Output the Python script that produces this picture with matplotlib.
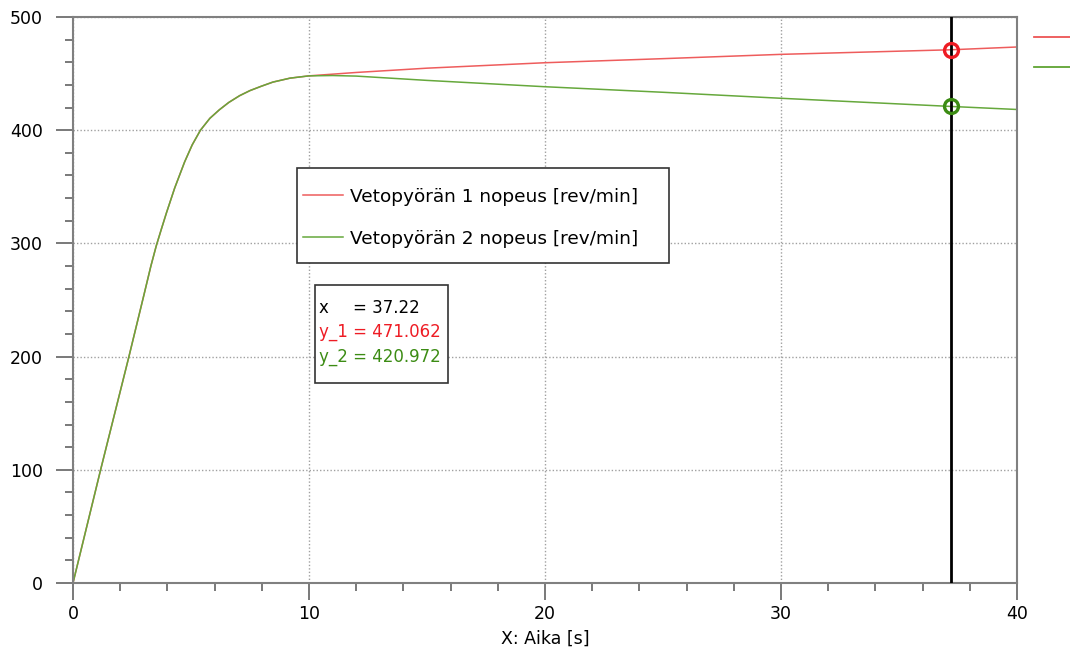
import numpy as np
import matplotlib
matplotlib.use("Agg")
import matplotlib.pyplot as plt
from matplotlib.lines import Line2D
from matplotlib.patches import Rectangle
from matplotlib.ticker import MultipleLocator

RED, GREEN, RED_DK, GREEN_DK = "#ee5c5c", "#66a83c", "#ee1c24", "#3c8c14"
GRAY = "#808080"

# common start-up phase (both wheels identical)
t_up = [0, 1.17, 2.37, 3.0, 3.3, 3.53, 3.75, 3.96, 4.31, 4.73, 5.05, 5.4,
        5.8, 6.2, 6.6, 7.06, 7.5, 8.0, 8.47, 9.2, 10]
v_up = [0, 100, 200, 254, 280, 298, 313, 327, 349, 372, 387, 400,
        410.5, 418, 424.5, 430.5, 435, 439, 442.5, 446, 448]
# after 10 s the wheels diverge
t_w1 = [10, 12, 15, 20, 25, 30, 37.22, 40]
v_w1 = [448, 451, 454.8, 459.6, 463.2, 467, 471.062, 473.5]
t_w2 = [10, 11, 12, 15, 20, 25, 30, 37.22, 40]
v_w2 = [448, 448.3, 447.8, 444, 438.4, 433.5, 428.2, 420.972, 418.3]
labels = ["Vetopyörän 1 nopeus [rev/min]", "Vetopyörän 2 nopeus [rev/min]"]
cursor_x, cursor_y1, cursor_y2 = 37.22, 471.062, 420.972

plt.rcParams["font.family"] = ["DejaVu Sans"]
fig = plt.figure(figsize=(10.7, 6.5), dpi=100)
ax = fig.add_axes([73 / 1070, 1 - 583 / 650, 944 / 1070, 566 / 650])


def ax_xy(px, py):
    # pixel position in the picture -> axes fraction
    return (px - 73) / 944, 1 - (py - 17) / 566


ax.plot(t_up + t_w1[1:], v_up + v_w1[1:], color=RED, lw=1.1)
ax.plot(t_up + t_w2[1:], v_up + v_w2[1:], color=GREEN, lw=1.1)

ax.axvline(cursor_x, color="black", lw=2.0, zorder=4)
ax.plot([cursor_x], [cursor_y1], "o", ms=10, mfc="none", mec=RED_DK, mew=2.4, zorder=5)
ax.plot([cursor_x], [cursor_y2], "o", ms=10, mfc="none", mec=GREEN_DK, mew=2.4, zorder=5)

ax.set_xlim(0, 40)
ax.set_ylim(0, 500)
ax.xaxis.set_major_locator(MultipleLocator(10))
ax.xaxis.set_minor_locator(MultipleLocator(2))
ax.yaxis.set_major_locator(MultipleLocator(100))
ax.yaxis.set_minor_locator(MultipleLocator(20))
ax.grid(which="major", color="#a0a0a0", lw=1.0, ls=(0, (1, 1.5)))
ax.tick_params(which="major", length=12, width=1.1, color="#555555", labelsize=12.5)
ax.tick_params(which="minor", length=6, width=1.1, color="#555555")
ax.tick_params(axis="y", which="major", pad=9.5)
ax.tick_params(axis="x", which="major", pad=4)
for s in ax.spines.values():
    s.set_color(GRAY)
    s.set_linewidth(1.5)
ax.set_xlabel("X: Aika [s]", fontsize=12.5, labelpad=5)

# legend inside the plot (frame drawn separately for its taller padding)
x0, y1 = ax_xy(297, 168)
x1, y0 = ax_xy(669, 263)
ax.add_patch(Rectangle((x0, y0), x1 - x0, y1 - y0, transform=ax.transAxes,
                       facecolor="white", edgecolor="#333333", lw=1.2, zorder=6))
h = [Line2D([], [], color=RED, lw=1.1), Line2D([], [], color=GREEN, lw=1.1)]
leg = ax.legend(h, labels, loc="upper left", bbox_to_anchor=ax_xy(297, 182),
                fontsize=13.3, frameon=False, borderpad=0.32, labelspacing=1.30,
                handlelength=2.16, handletextpad=0.38, borderaxespad=0)
leg.set_zorder(7)
ax.add_artist(leg)

# cut-off legend at the right edge
leg2 = ax.legend(h, ["", ""], loc="upper left", bbox_to_anchor=(1.012, 0.985),
                 frameon=False, handlelength=2.6, labelspacing=1.15, borderaxespad=0)
ax.add_artist(leg2)

# cursor readout box
bx0, by1 = ax_xy(315, 285)
bx1, by0 = ax_xy(448, 383)
ax.add_patch(Rectangle((bx0, by0), bx1 - bx0, by1 - by0, transform=ax.transAxes,
                       facecolor="white", edgecolor="#333333", lw=1.2, zorder=6))
tx = ax_xy(319, 0)[0]
ax.text(tx, ax_xy(0, 308)[1], "x", transform=ax.transAxes, fontsize=12,
        va="center", color="black", zorder=7)
ax.text(ax_xy(353, 0)[0], ax_xy(0, 308)[1], f"= {cursor_x:.2f}", transform=ax.transAxes,
        fontsize=12, va="center", color="black", zorder=7)
ax.text(tx, ax_xy(0, 332)[1], f"y_1 = {cursor_y1:.3f}", transform=ax.transAxes,
        fontsize=12, va="center", color=RED_DK, zorder=7)
ax.text(tx, ax_xy(0, 357)[1], f"y_2 = {cursor_y2:.3f}", transform=ax.transAxes,
        fontsize=12, va="center", color=GREEN_DK, zorder=7)

fig.savefig("out.png", dpi=100)
